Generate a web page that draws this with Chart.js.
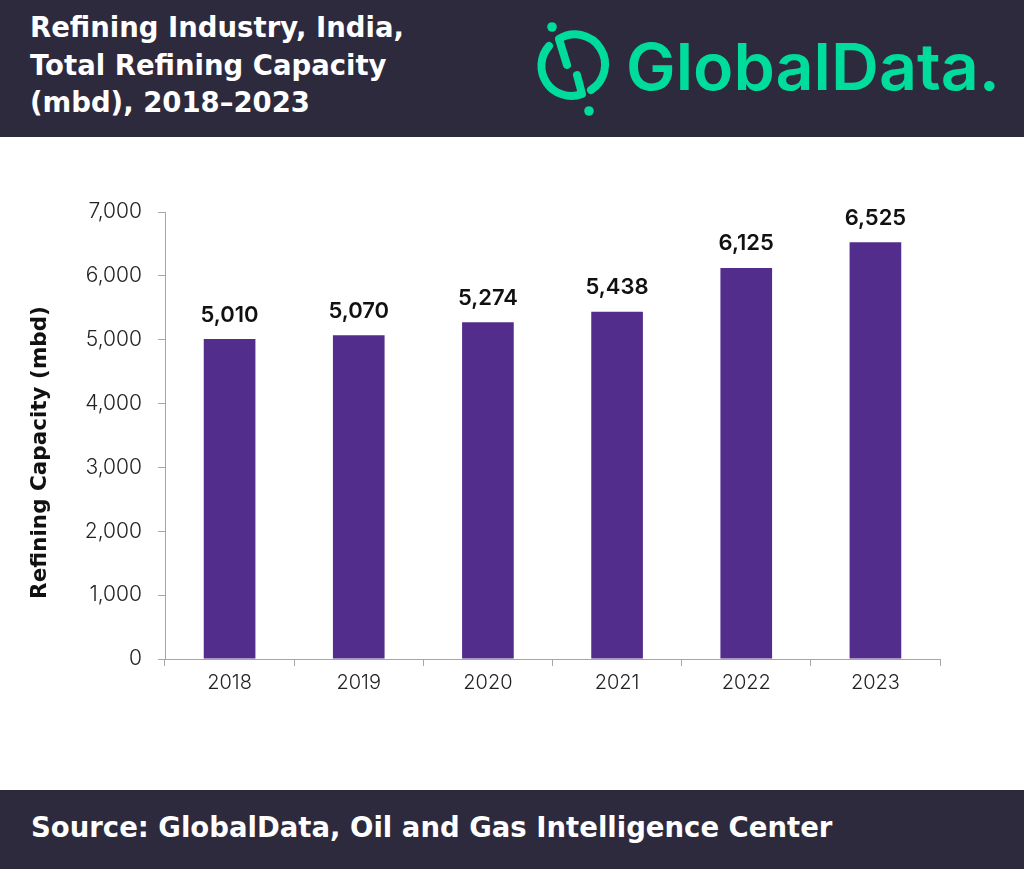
<!DOCTYPE html>
<html>
<head>
<meta charset="utf-8">
<script src="https://cdn.jsdelivr.net/npm/chart.js@4"></script>
<style>
  html, body { margin:0; padding:0; width:1024px; height:869px; background:#fff; overflow:hidden; font-family: Inter, "Noto Sans", sans-serif; }
  #header { position:absolute; left:0; top:0; width:1024px; height:137px; background:#2e2a3e; }
  #title { position:absolute; left:30px; top:9px; color:#fff; font-family:"DejaVu Sans", sans-serif; font-size:27.5px; font-weight:700; line-height:37.5px; }
  #logo { position:absolute; left:520px; top:10px; }
  #footer { position:absolute; left:0; top:790px; width:1024px; height:79px; background:#2e2a3e; }
  #source { position:absolute; left:31px; top:809px; color:#fff; font-family:"DejaVu Sans", sans-serif; font-size:27.5px; font-weight:700; line-height:37px; }
  #chartWrap { position:absolute; left:0; top:137px; width:1024px; height:653px; }
</style>
</head>
<body>
<div id="header">
  <div id="title">Refining Industry, India,<br>Total Refining Capacity<br>(mbd), 2018–2023</div>
  <svg id="logo" width="500" height="115" viewBox="0 0 500 115">
    <g stroke="#00dc9c" stroke-width="8" fill="none" stroke-linecap="round" stroke-linejoin="round">
      <path d="M 47 55 L 39 29 A 30 30 0 0 1 71 80"/>
      <path d="M 29 36 A 30 30 0 0 0 62 84 L 57 65"/>
    </g>
    <circle cx="32" cy="17" r="4.8" fill="#00dc9c"/>
    <circle cx="69" cy="101" r="4.8" fill="#00dc9c"/>
    <text x="106" y="80" font-family="Inter, sans-serif" font-size="65" font-weight="600" fill="#00dc9c" textLength="374" lengthAdjust="spacingAndGlyphs">GlobalData.</text>
  </svg>
</div>
<div id="chartWrap"><canvas id="c"></canvas></div>
<div id="footer"></div>
<div id="source">Source: GlobalData, Oil and Gas Intelligence Center</div>
<script>
const categories = ["2018", "2019", "2020", "2021", "2022", "2023"];
const capacity = [5010, 5070, 5274, 5438, 6125, 6525];
const yTicks = [0, 1000, 2000, 3000, 4000, 5000, 6000, 7000];
const yAxisTitle = 'Refining Capacity (mbd)';

const valueLabels = {
  id: 'valueLabels',
  afterDatasetsDraw(chart) {
    const ctx = chart.ctx;
    const meta = chart.getDatasetMeta(0);
    ctx.save();
    ctx.font = '600 22px Inter, sans-serif';
    ctx.fillStyle = '#111';
    ctx.textAlign = 'center';
    ctx.textBaseline = 'middle';
    meta.data.forEach((bar, i) => {
      ctx.fillText(capacity[i].toLocaleString('en-US'), bar.x, bar.y - 24);
    });
    ctx.restore();
  }
};

const axisTitle = {
  id: 'axisTitle',
  afterDraw(chart) {
    const ctx = chart.ctx;
    const area = chart.chartArea;
    ctx.save();
    ctx.translate(40, (area.top + area.bottom) / 2 + 17);
    ctx.rotate(-Math.PI / 2);
    ctx.font = 'bold 21.5px "DejaVu Sans", sans-serif';
    ctx.fillStyle = '#111';
    ctx.textAlign = 'center';
    ctx.textBaseline = 'middle';
    ctx.fillText(yAxisTitle, 0, 0);
    ctx.restore();
  }
};

new Chart(document.getElementById('c'), {
  type: 'bar',
  data: {
    labels: categories,
    datasets: [{
      data: capacity,
      backgroundColor: '#522d8c',
      borderWidth: 0,
      categoryPercentage: 1.0,
      barPercentage: 0.4
    }]
  },
  options: {
    responsive: true,
    maintainAspectRatio: false,
    animation: false,
    layout: { padding: { top: 75, right: 84, bottom: 86, left: 0 } },
    plugins: { legend: { display: false }, tooltip: { enabled: false } },
    scales: {
      x: {
        grid: { display: true, drawOnChartArea: false, drawTicks: true, tickLength: 7, color: '#a6a6a6', offset: true },
        border: { display: true, color: '#a6a6a6', width: 1 },
        ticks: { color: '#222', font: { family: 'Inter', size: 20, weight: 300 }, padding: 5 },
        afterFit(s) { s.height = 45; }
      },
      y: {
        min: 0, max: 7000,
        afterBuildTicks(s) { s.ticks = yTicks.map(v => ({ value: v })); },
        grid: { display: true, drawOnChartArea: false, drawTicks: true, tickLength: 7, color: '#a6a6a6' },
        border: { display: true, color: '#a6a6a6', width: 1 },
        ticks: { color: '#222', font: { family: 'Inter', size: 21, weight: 300 }, padding: 16,
                 callback: v => v.toLocaleString('en-US') },
        title: { display: false },
        afterFit(s) { s.width = 165; }
      }
    }
  },
  plugins: [valueLabels, axisTitle]
});
</script>
</body>
</html>
